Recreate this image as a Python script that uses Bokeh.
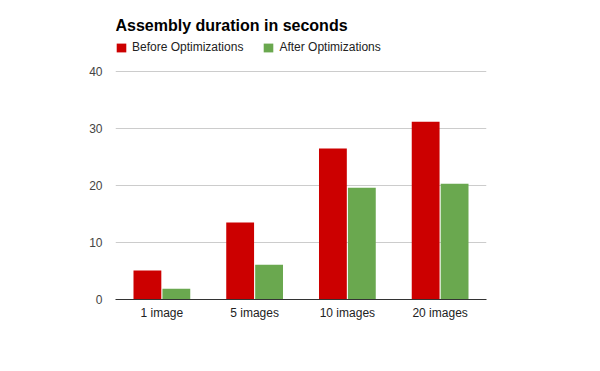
from bokeh.plotting import figure
from bokeh.models import ColumnDataSource, Legend, LegendItem, FactorRange, Label
from bokeh.transform import dodge
from bokeh.embed import file_html
from bokeh.resources import INLINE

categories = ["1 image", "5 images", "10 images", "20 images"]
before = [5.1, 13.5, 26.5, 31.2]
after = [1.9, 6.1, 19.6, 20.3]
series_names = ["Before Optimizations", "After Optimizations"]
y_ticks = [0, 10, 20, 30, 40]
title_text = "Assembly duration in seconds"

FONT = "Liberation Sans"
RED = "#cc0000"
GREEN = "#6aa84f"

src = ColumnDataSource(dict(cat=categories, before=before, after=after))

# frame spans from canvas top to the zero line; headroom above 40 holds title and legend
p = figure(x_range=FactorRange(*categories), y_range=(0, 299 / 5.7),
           width=584, height=355, output_backend="svg", toolbar_location=None,
           min_border_left=115, min_border_right=98, min_border_top=0, min_border_bottom=56)
p.outline_line_color = None
p.background_fill_color = "white"
p.border_fill_color = "white"

r1 = p.vbar(x=dodge("cat", -0.156, range=p.x_range), top="before", width=0.30,
            source=src, fill_color=RED, line_color=None)
r2 = p.vbar(x=dodge("cat", 0.156, range=p.x_range), top="after", width=0.30,
            source=src, fill_color=GREEN, line_color=None)

p.x_range.range_padding = 0
p.xgrid.grid_line_color = None
p.ygrid.grid_line_color = "#cccccc"
p.ygrid.ticker = y_ticks
p.yaxis.ticker = y_ticks

p.yaxis.axis_line_color = None
p.yaxis.major_tick_line_color = None
p.yaxis.minor_tick_line_color = None
p.yaxis.major_tick_out = 0
p.yaxis.minor_tick_out = 0
p.yaxis.major_label_text_font = FONT
p.yaxis.major_label_text_font_size = "12px"
p.yaxis.major_label_text_color = "#444444"
p.yaxis.major_label_standoff = 13

p.xaxis.axis_line_color = "#333333"
p.xaxis.axis_line_width = 1
p.xaxis.major_tick_line_color = None
p.xaxis.minor_tick_line_color = None
p.xaxis.major_tick_out = 0
p.xaxis.minor_tick_out = 0
p.xaxis.major_label_text_font = FONT
p.xaxis.major_label_text_font_size = "12px"
p.xaxis.major_label_text_color = "#222222"
p.xaxis.major_label_standoff = 6

p.add_layout(Label(x=0, y=274, x_units="screen", y_units="screen", text=title_text,
                   text_font=FONT, text_font_size="16px", text_font_style="bold",
                   text_color="#000000", text_baseline="alphabetic"))

legend = Legend(items=[LegendItem(label=series_names[0], renderers=[r1]),
                       LegendItem(label=series_names[1], renderers=[r2])],
                orientation="horizontal", location=(0, 245),
                label_text_font=FONT, label_text_font_size="12px", label_text_color="#222222",
                glyph_width=12, glyph_height=11, label_standoff=5, spacing=19,
                padding=0, margin=0, border_line_color=None, background_fill_alpha=0,
                label_height=12)
p.add_layout(legend, "center")

open("out.html", "w").write(file_html(p, INLINE))
